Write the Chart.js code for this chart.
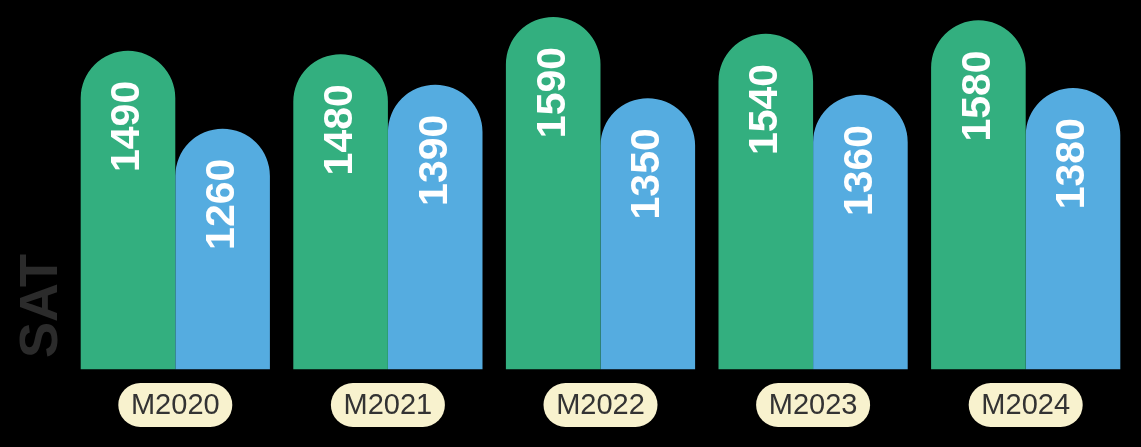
<!DOCTYPE html>
<html>
<head>
<meta charset="utf-8">
<script src="https://cdn.jsdelivr.net/npm/chart.js@4"></script>
<style>
html, body { margin: 0; padding: 0; background: #000; }
#wrap { width: 1141px; height: 447px; }
</style>
</head>
<body>
<div id="wrap"><canvas id="myChart"></canvas></div>
<script>
const labels = ["M2020", "M2021", "M2022", "M2023", "M2024"]
const greenValues = [1490, 1480, 1590, 1540, 1580]
const blueValues = [1260, 1390, 1350, 1360, 1380]
const axisTitle = "SAT"

// black background, cream pills behind the category labels, and the axis title
const backdrop = {
  id: "backdrop",
  beforeDraw(chart) {
    const ctx = chart.ctx
    ctx.save()
    ctx.fillStyle = "#000"
    ctx.fillRect(0, 0, chart.width, chart.height)
    const x = chart.scales.x
    ctx.fillStyle = "#f8f2ce"
    for (let i = 0; i < labels.length; i++) {
      let cx = x.getPixelForTick(i)
      ctx.beginPath()
      ctx.roundRect(cx - 57, 383, 114, 44, 22)
      ctx.fill()
    }
    ctx.translate(42, 306)
    ctx.rotate(-Math.PI / 2)
    ctx.fillStyle = "#2b2b2b"
    ctx.font = "bold 54px 'Liberation Sans', Arial, sans-serif"
    ctx.textAlign = "center"
    ctx.textBaseline = "middle"
    ctx.fillText(axisTitle, 0, 0)
    ctx.restore()
  }
}

// rotated value labels near the top of each bar
const valueLabels = {
  id: "valueLabels",
  afterDatasetsDraw(chart) {
    const ctx = chart.ctx
    ctx.save()
    ctx.fillStyle = "#fff"
    ctx.font = "bold 41px 'Liberation Sans', Arial, sans-serif"
    ctx.textAlign = "right"
    ctx.textBaseline = "middle"
    chart.data.datasets.forEach(function (ds, d) {
      chart.getDatasetMeta(d).data.forEach(function (bar, i) {
        ctx.save()
        ctx.translate(bar.x, bar.y + 30)
        ctx.rotate(-Math.PI / 2)
        ctx.fillText(String(ds.data[i]), 0, 0)
        ctx.restore()
      })
    })
    ctx.restore()
  }
}

const ctx = document.getElementById("myChart").getContext("2d")
const myChart = new Chart(ctx, {
  type: "bar",
  data: {
    labels: labels,
    datasets: [
      { data: greenValues, backgroundColor: "#33af7f" },
      { data: blueValues, backgroundColor: "#55ace0" }
    ]
  },
  options: {
    responsive: true,
    maintainAspectRatio: false,
    animation: false,
    layout: { padding: { left: 69, right: 9, top: 0, bottom: 5 } },
    datasets: {
      bar: {
        categoryPercentage: 0.89,
        barPercentage: 1,
        borderRadius: { topLeft: 48, topRight: 48, bottomLeft: 0, bottomRight: 0 },
        borderSkipped: false
      }
    },
    plugins: {
      legend: { display: false },
      tooltip: { enabled: false }
    },
    scales: {
      x: {
        grid: { display: false, drawTicks: false },
        border: { display: false },
        ticks: {
          color: "#333",
          padding: 19,
          font: { family: "'Liberation Sans', Arial, sans-serif", size: 29 }
        }
      },
      y: {
        display: false,
        min: 550,
        max: 1640
      }
    }
  },
  plugins: [backdrop, valueLabels]
})
</script>
</body>
</html>
